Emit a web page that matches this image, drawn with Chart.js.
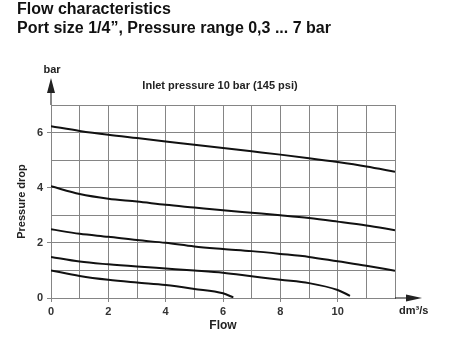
<!DOCTYPE html>
<html>
<head>
<meta charset="utf-8">
<script src="https://cdn.jsdelivr.net/npm/chart.js@4"></script>
<style>
  html, body { margin: 0; padding: 0; background: #fff; }
  #wrap { width: 451px; height: 338px; position: relative; }
</style>
</head>
<body>
<div id="wrap"><canvas id="flowChart" width="451" height="338"></canvas></div>
<script>
// flow in dm3/s, pressure drop in bar
const flowFull = [0, 1, 2, 3, 4, 5, 6, 7, 8, 9, 10, 11, 12];
const curve1 = [6.23, 6.06, 5.92, 5.80, 5.68, 5.56, 5.44, 5.32, 5.20, 5.07, 4.93, 4.77, 4.58];
const curve2 = [4.05, 3.77, 3.60, 3.50, 3.38, 3.28, 3.18, 3.09, 3.00, 2.90, 2.77, 2.63, 2.46];
const curve3 = [2.49, 2.33, 2.22, 2.10, 2.00, 1.87, 1.78, 1.70, 1.60, 1.49, 1.33, 1.17, 0.99];
const flow4 = [0, 1, 2, 3, 4, 5, 6, 7, 8, 9, 10, 10.43];
const curve4 = [1.49, 1.32, 1.22, 1.14, 1.07, 1.00, 0.92, 0.79, 0.66, 0.54, 0.29, 0.08];
const flow5 = [0, 1, 2, 3, 4, 5, 6, 6.36];
const curve5 = [1.00, 0.80, 0.66, 0.56, 0.47, 0.33, 0.17, 0.02];

const xTicks = [0, 2, 4, 6, 8, 10];
const yTicks = [0, 2, 4, 6];

const titleLines = ['Flow characteristics', 'Port size 1/4\u201D, Pressure range 0,3 ... 7 bar'];
const subTitle = 'Inlet pressure 10 bar (145 psi)';

const FONT = "'Liberation Sans', Arial, Helvetica, sans-serif";
const gridCol = '#858585';

function pts(xs, ys) {
    return xs.map((x, i) => ({ x: x, y: ys[i] }));
}

function curve(xs, ys) {
    return {
        data: pts(xs, ys),
        borderColor: '#111',
        borderWidth: 2,
        pointRadius: 0,
        fill: false,
        cubicInterpolationMode: 'monotone'
    };
}

// titles, arrows and units
const extras = {
    id: 'extras',
    afterDraw(chart) {
        const c = chart.ctx;
        const a = chart.chartArea;
        c.save();
        c.fillStyle = '#111';
        c.textBaseline = 'middle';
        c.textAlign = 'left';
        c.font = 'bold 16px ' + FONT;
        c.fillText(titleLines[0], 17, 10);
        c.fillText(titleLines[1], 17, 29);

        c.fillStyle = '#222';
        c.textAlign = 'center';
        c.font = 'bold 11px ' + FONT;
        c.fillText(subTitle, (a.left + a.right) / 2 - 3, 86);
        c.fillText('bar', a.left + 1, 70);
        c.textAlign = 'left';
        c.fillText('dm\u00B3/s', a.right + 4, 311);

        // y arrow
        c.strokeStyle = '#111';
        c.lineWidth = 1;
        c.beginPath();
        c.moveTo(a.left, a.top);
        c.lineTo(a.left, 92);
        c.stroke();
        c.beginPath();
        c.moveTo(a.left, 78);
        c.lineTo(a.left - 4, 93);
        c.lineTo(a.left + 4, 93);
        c.closePath();
        c.fill();
        // x arrow
        c.beginPath();
        c.moveTo(a.right, a.bottom);
        c.lineTo(407, a.bottom);
        c.stroke();
        c.beginPath();
        c.moveTo(422, a.bottom);
        c.lineTo(406, a.bottom - 3.5);
        c.lineTo(406, a.bottom + 3.5);
        c.closePath();
        c.fill();
        c.restore();
    }
};

const ctx = document.getElementById('flowChart');

new Chart(ctx, {
    type: 'line',
    data: {
        datasets: [
            curve(flowFull, curve1),
            curve(flowFull, curve2),
            curve(flowFull, curve3),
            curve(flow4, curve4),
            curve(flow5, curve5)
        ]
    },
    options: {
        responsive: false,
        animation: false,
        layout: { padding: { top: 105, right: 56, left: 0, bottom: 0 } },
        plugins: {
            legend: { display: false },
            tooltip: { enabled: false }
        },
        scales: {
            x: {
                type: 'linear',
                min: 0,
                max: 12,
                afterFit: (s) => { s.height = 40; },
                ticks: {
                    stepSize: 1,
                    autoSkip: false,
                    maxRotation: 0,
                    padding: 3,
                    color: '#333',
                    font: { family: FONT, size: 11, weight: 'bold' },
                    callback: (v) => xTicks.includes(v) ? v : ''
                },
                grid: {
                    color: gridCol,
                    lineWidth: 1,
                    tickLength: 4,
                    tickColor: (c) => (c.tick && xTicks.includes(c.tick.value)) ? gridCol : 'rgba(0,0,0,0)'
                },
                border: { color: gridCol },
                title: {
                    display: true,
                    text: 'Flow',
                    color: '#222',
                    padding: { top: 0, bottom: 5 },
                    font: { family: FONT, size: 12, weight: 'bold' }
                }
            },
            y: {
                min: 0,
                max: 7,
                afterFit: (s) => { s.width = 51; },
                ticks: {
                    stepSize: 1,
                    autoSkip: false,
                    padding: 4,
                    color: '#333',
                    font: { family: FONT, size: 11, weight: 'bold' },
                    callback: (v) => yTicks.includes(v) ? v : ''
                },
                grid: {
                    color: gridCol,
                    lineWidth: 1,
                    tickLength: 4,
                    tickColor: (c) => (c.tick && yTicks.includes(c.tick.value)) ? gridCol : 'rgba(0,0,0,0)'
                },
                border: { color: gridCol },
                title: {
                    display: true,
                    text: 'Pressure drop',
                    color: '#222',
                    padding: { top: 15, bottom: 0 },
                    font: { family: FONT, size: 11, weight: 'bold' }
                }
            }
        }
    },
    plugins: [extras]
});
</script>
</body>
</html>
